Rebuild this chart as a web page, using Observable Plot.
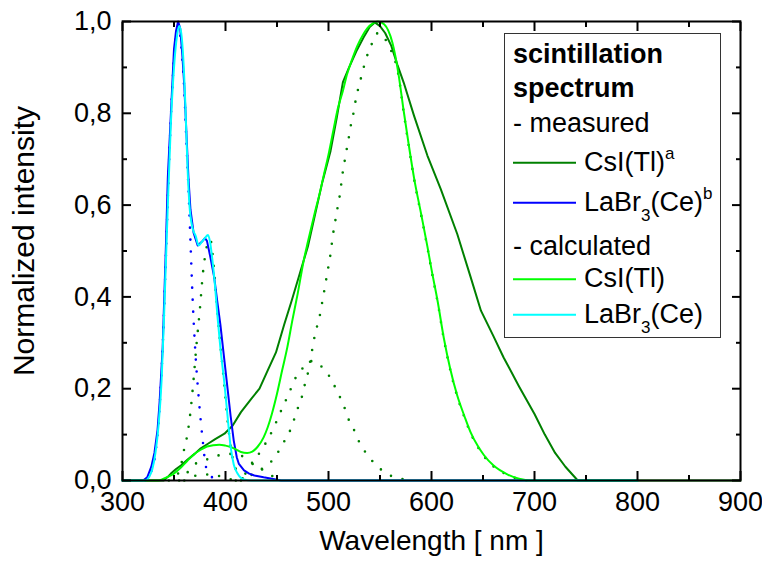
<!DOCTYPE html>
<html><head><meta charset="utf-8">
<script src="https://cdn.jsdelivr.net/npm/d3@7"></script>
<script src="https://cdn.jsdelivr.net/npm/@observablehq/plot@0.6"></script>
<style>
body{margin:0;background:#fff;}
#wrap{position:relative;width:762px;height:562px;}
#wrap svg{position:absolute;left:0;top:0;}
</style></head><body><div id="wrap"></div>
<script>
// ---- data: [wavelength nm, normalized intensity] ----
const measCsI = [[300,0],[340,0],[344,0.008],[347,0.015],[352,0.025],[357,0.033],[363,0.045],[370,0.058],[376,0.07],[383,0.08],[390,0.09],[399,0.102],[407,0.12],[415,0.149],[425,0.178],[433,0.2],[441,0.24],[449,0.279],[457,0.34],[464,0.39],[472,0.45],[480,0.51],[487,0.58],[494,0.65],[502,0.718],[508,0.79],[514,0.868],[520,0.9],[527,0.935],[534,0.965],[540,0.988],[545,0.998],[550,0.99],[555,0.975],[561,0.947],[567,0.905],[573,0.867],[583,0.795],[596,0.708],[609,0.635],[625,0.537],[638,0.443],[648,0.37],[660,0.315],[670,0.268],[685,0.205],[700,0.145],[710,0.1],[720,0.06],[730,0.03],[742,0],[900,0]];
const measLaBr = [[300,0],[320,0],[324,0.007],[328,0.03],[331,0.06],[334,0.11],[336,0.17],[339,0.29],[342,0.5],[344,0.66],[347,0.8],[350,0.94],[352,0.98],[354,1.0],[356,0.985],[358,0.93],[360,0.86],[362,0.76],[364,0.66],[366,0.59],[369,0.54],[373,0.512],[377,0.52],[380,0.528],[382,0.522],[385,0.49],[389,0.443],[392,0.39],[395,0.34],[399,0.26],[402,0.2],[405,0.14],[408,0.087],[411,0.05],[413,0.036],[418,0.022],[423,0.015],[428,0.011],[437,0.007],[445,0.004],[454,0],[800,0]];
const calcCsI = [[300,0],[335,0],[340,0.004],[347,0.011],[357,0.029],[363,0.043],[370,0.058],[376,0.067],[382,0.074],[388,0.077],[394,0.078],[400,0.076],[405,0.073],[410,0.068],[415,0.062],[421,0.06],[426,0.063],[431,0.073],[437,0.094],[441,0.116],[445,0.145],[450,0.189],[455,0.24],[460,0.29],[465,0.35],[470,0.406],[476,0.48],[480,0.52],[486,0.577],[492,0.631],[496,0.671],[500,0.71],[505,0.766],[509,0.81],[514,0.849],[518,0.885],[523,0.918],[528,0.947],[533,0.969],[538,0.986],[543,0.996],[548,1.0],[554,0.994],[562,0.954],[568,0.885],[573,0.805],[578,0.73],[583,0.66],[590,0.58],[596,0.51],[600,0.46],[606,0.39],[612,0.31],[618,0.245],[625,0.185],[632,0.14],[638,0.105],[645,0.075],[651,0.055],[660,0.033],[674,0.013],[685,0.004],[696,0],[800,0]];
const calcLaBr = [[300,0],[322,0],[326,0.008],[329,0.025],[332,0.06],[335,0.12],[338,0.22],[341,0.4],[344,0.6],[347,0.78],[350,0.9],[353,0.97],[355,0.99],[357,0.975],[359,0.92],[361,0.82],[363,0.69],[365,0.6],[368,0.55],[371,0.533],[374,0.512],[377,0.52],[380,0.528],[383,0.535],[385,0.52],[387,0.486],[390,0.42],[392,0.363],[395,0.29],[399,0.21],[402,0.14],[405,0.073],[408,0.035],[412,0.014],[418,0.002],[425,0],[800,0]];
// fitted components (dotted)
const compLa1 = [[322,0],[328,0.02],[332,0.06],[336,0.16],[339,0.29],[342,0.48],[345,0.68],[348,0.84],[351,0.95],[354,0.99],[356,0.97],[358,0.92],[360,0.85],[362,0.74],[364,0.64],[366,0.52],[368,0.4],[371,0.27],[374,0.18],[378,0.085],[381,0.03],[387,0.007],[395,0]];
const compA = [[345,0],[352,0.01],[355,0.02],[358,0.045],[360,0.07],[363,0.1],[366,0.15],[369,0.22],[372,0.3],[375,0.37],[378,0.45],[381,0.5],[384,0.525],[386,0.52],[388,0.48],[391,0.4],[394,0.32],[397,0.25],[400,0.18],[403,0.11],[406,0.06],[410,0.025],[415,0.008],[420,0]];
const compB = [[355,0],[362,0.015],[370,0.035],[381,0.045],[392,0.054],[403,0.058],[414,0.055],[426,0.038],[437,0.022],[447,0.008],[455,0]];
const compB2 = [[360,0],[370,0.01],[380,0.013],[391,0.011],[403,0.004],[410,0]];
const compC = [[410,0],[418,0.012],[426,0.035],[434,0.064],[441,0.089],[447,0.116],[452,0.142],[457,0.167],[462,0.192],[467,0.219],[475,0.245],[482,0.26],[486,0.26],[491,0.252],[497,0.24],[504,0.214],[510,0.187],[515,0.162],[519,0.136],[525,0.109],[530,0.083],[537,0.058],[547,0.032],[558,0.013],[570,0.004],[582,0]];
const compD = [[415,0],[425,0.012],[437,0.028],[449,0.054],[455,0.078],[462,0.105],[466,0.129],[470,0.156],[474,0.181],[477,0.209],[480,0.234],[483,0.27],[486,0.308],[489,0.337],[492,0.364],[494,0.39],[496,0.415],[498,0.441],[500,0.467],[502,0.494],[504,0.53],[507,0.571],[509,0.597],[511,0.622],[512.5,0.648],[514,0.674],[516,0.7],[518,0.726],[520,0.751],[522,0.778],[524.5,0.803],[526.5,0.83],[529,0.855],[532,0.881],[535,0.907],[538.5,0.932],[544,0.96],[548,0.975],[554,0.965],[560,0.94],[564,0.92],[568,0.882],[573,0.802],[578,0.728],[583,0.658],[590,0.578],[596,0.508],[600,0.458],[606,0.388],[612,0.308],[618,0.243],[625,0.183],[632,0.138],[638,0.103],[645,0.073],[651,0.053],[660,0.031],[674,0.012],[685,0.003],[696,0]];

const xMajor = [300,400,500,600,700,800,900];
const xMinor = [350,450,550,650,750,850];
const yMajor = [0,0.2,0.4,0.6,0.8,1.0];
const yMinor = [0.1,0.3,0.5,0.7,0.9];

const C = {dark:"#008000", blue:"#0000ff", lime:"#00ff00", cyan:"#00ffff"};
const X = d => d[0], Y = d => d[1];
const solid = (data, color, curve) => Plot.line(data, {x: X, y: Y, stroke: color, strokeWidth: 2, curve});
const dotted = (data, color) => Plot.line(data, {x: X, y: Y, stroke: color, strokeWidth: 2.6, strokeDasharray: "0,12", strokeLinecap: "round", curve: "monotone-x"});
const blank = () => "";

const chart = Plot.plot({
  width: 762, height: 562,
  marginLeft: 122, marginRight: 22, marginTop: 21, marginBottom: 82,
  x: {domain: [300, 900]},
  y: {domain: [0, 1]},
  style: {fontFamily: "'Liberation Sans', Arial, sans-serif", fontSize: "27px", background: "transparent", color: "black"},
  marks: [
    dotted(compB2, C.dark),
    dotted(compB, C.dark),
    dotted(compC, C.dark),
    dotted(compD, C.dark),
    dotted(compA, C.dark),
    dotted(compLa1, C.blue),
    solid(measCsI, C.dark, "linear"),
    solid(measLaBr, C.blue, "linear"),
    solid(calcCsI, C.lime, "monotone-x"),
    solid(calcLaBr, C.cyan, "monotone-x"),
    // bottom axis
    Plot.axisX({anchor: "bottom", ticks: xMinor, tickSize: -5, strokeWidth: 2, tickFormat: blank, label: null}),
    Plot.axisX({anchor: "bottom", ticks: xMajor, tickSize: -9, tickPadding: 20, strokeWidth: 2, tickFormat: d => String(d), label: null}),
    // top axis
    Plot.axisX({anchor: "top", ticks: xMinor, tickSize: -5, strokeWidth: 2, tickFormat: blank, label: null}),
    Plot.axisX({anchor: "top", ticks: xMajor, tickSize: -9, strokeWidth: 2, tickFormat: blank, label: null}),
    // left axis
    Plot.axisY({anchor: "left", ticks: yMinor, tickSize: -5, strokeWidth: 2, tickFormat: blank, label: null}),
    Plot.axisY({anchor: "left", ticks: yMajor, tickSize: -9, tickPadding: 20, strokeWidth: 2, tickFormat: d => d.toFixed(1).replace(".", ","), label: null}),
    // right axis
    Plot.axisY({anchor: "right", ticks: yMinor, tickSize: -5, strokeWidth: 2, tickFormat: blank, label: null}),
    Plot.axisY({anchor: "right", ticks: yMajor, tickSize: -9, strokeWidth: 2, tickFormat: blank, label: null}),
    Plot.frame({stroke: "black", strokeWidth: 2}),
    Plot.text(["Wavelength [ nm ]"], {frameAnchor: "bottom", dy: 61, fontSize: 28, textAnchor: "middle", lineAnchor: "middle"}),
    Plot.text(["Normalized intensity"], {frameAnchor: "left", dx: -98, dy: -10, rotate: -90, fontSize: 30, textAnchor: "middle", lineAnchor: "middle"})
  ]
});
const wrap = document.getElementById("wrap");
wrap.appendChild(chart);

// ---- legend overlay ----
const leg = d3.select(wrap).append("svg")
  .attr("width", 762).attr("height", 562)
  .style("pointer-events", "none")
  .style("font-family", "'Liberation Sans', Arial, sans-serif")
  .style("font-size", "27px");
leg.append("rect").attr("x", 504.5).attr("y", 33.5).attr("width", 216).attr("height", 304)
  .attr("fill", "white").attr("stroke", "#333").attr("stroke-width", 1);
const legRows = [
  {text: "scintillation", bold: true, y: 63},
  {text: "spectrum", bold: true, y: 96.7},
  {text: "- measured", y: 131.7},
  {text: "- calculated", y: 255}
];
legRows.forEach(r => leg.append("text").attr("x", 513).attr("y", r.y)
  .attr("font-weight", r.bold ? "bold" : null).text(r.text));
const legItems = [
  {color: C.dark, y: 170.7, parts: [["CsI(Tl)"], ["a", "sup"]]},
  {color: C.blue, y: 210.7, parts: [["LaBr"], ["3", "sub"], ["(Ce)"], ["b", "sup"]]},
  {color: C.lime, y: 287.3, parts: [["CsI(Tl)"]]},
  {color: C.cyan, y: 322.7, parts: [["LaBr"], ["3", "sub"], ["(Ce)"]]}
];
legItems.forEach(it => {
  leg.append("line").attr("x1", 513).attr("x2", 576).attr("y1", it.y - 8).attr("y2", it.y - 8)
    .attr("stroke", it.color).attr("stroke-width", 2);
  const t = leg.append("text").attr("x", 584).attr("y", it.y);
  let shift = 0;
  it.parts.forEach(([s, k]) => {
    const target = k === "sup" ? -12 : k === "sub" ? 10 : 0;
    t.append("tspan").attr("dy", target - shift).attr("font-size", k ? 17 : null).text(s);
    shift = target;
  });
});
</script></body></html>
